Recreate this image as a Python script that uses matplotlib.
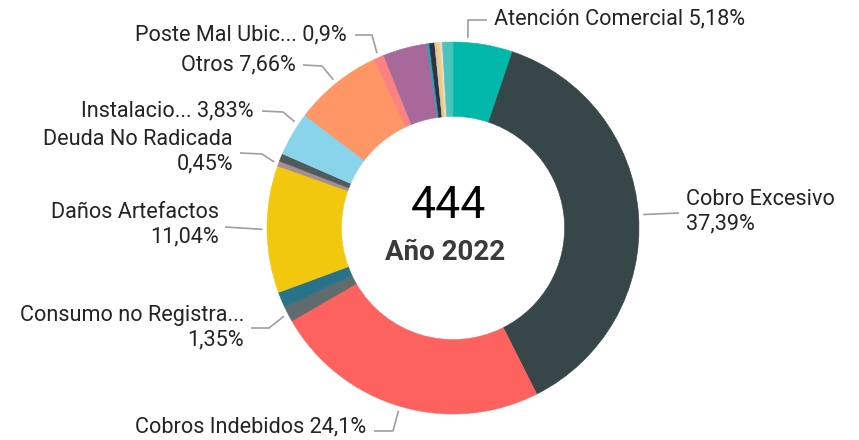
import numpy as np
import matplotlib.pyplot as plt

plt.rcParams['font.family'] = ['Roboto', 'DejaVu Sans']

# slices, clockwise from 12 o'clock (counts out of 444)
categories = ["Atención Comercial", "Cobro Excesivo", "Cobros Indebidos",
              "Consumo no Registrado", "Otra 1", "Daños Artefactos",
              "Deuda No Radicada", "Otra 2", "Instalaciones", "Otros",
              "Poste Mal Ubicado", "Otra 3", "Otra 4", "Otra 5", "Otra 6",
              "Otra 7", "Otra 8", "Otra 9"]
counts = [23, 166, 107, 6, 6, 49, 2, 3, 17, 34, 4, 17, 1, 2, 1, 1, 1, 4]
colors = ["#01B8AA", "#374649", "#FD625E", "#5F6B6D", "#28738A", "#F2C80F",
          "#A78F8F", "#4F5A5C", "#8AD4EB", "#FE9666", "#FB8281", "#A66999",
          "#3599B8", "#293537", "#DFBFBF", "#F4D25A", "#E8D8D8", "#4AC5BB"]

total_text = "444"
subtitle = "Año 2022"

# which slices get a label, and the text shown (Power BI truncates long names)
label_idx = [0, 1, 2, 3, 5, 6, 8, 9, 10]
label_names = ["Atención Comercial", "Cobro Excesivo", "Cobros Indebidos",
               "Consumo no Registra...", "Daños Artefactos", "Deuda No Radicada",
               "Instalacio...", "Otros", "Poste Mal Ubic..."]
label_two_line = [False, True, False, True, True, True, False, False, False]

# layout in pixels of the 859x440 canvas
W, H = 859, 440
CX, CY, R = 453, 228, 186
text_xy = [(494, 19), (686, 212), (366, 427), (244, 328), (219, 225),
           (233, 152), (254, 111), (296, 65), (347, 35)]
text_ha = ['left', 'left', 'right', 'right', 'right', 'right', 'right', 'right', 'right']
elbow_xy = [(468, 20), None, (393, 431), (269, 328), None, (262, 154),
            (283, 112), (322, 66), (372, 35)]
end_xy = [(487, 20), (679, 213), (374, 431), (251, 328), (225, 227),
          (240, 153), (262, 111), (303, 65), (355, 35)]
leader_frac = [0.24, 0.5, 0.5, 0.5, 0.5, 0.5, 0.75, 0.5, 0.5]


def px(x, y):
    return (x - CX) / R, (CY - y) / R


def pct_str(v):
    s = f"{v:.2f}".rstrip('0').rstrip('.')
    return s.replace('.', ',') + '%'


fig = plt.figure(figsize=(W / 100, H / 100), dpi=100)
ax = fig.add_axes([0, 0, 1, 1])

wedges, _ = ax.pie(counts, colors=colors, startangle=90, counterclock=False,
                   radius=1.0, wedgeprops=dict(width=0.4, linewidth=0.4))
for w in wedges:
    w.set_edgecolor(w.get_facecolor())

ax.set_xlim(-CX / R, (W - CX) / R)
ax.set_ylim((CY - H) / R, CY / R)
ax.set_aspect('equal')
ax.axis('off')

counts_arr = np.array(counts, dtype=float)
pcts = counts_arr / counts_arr.sum() * 100
cum = np.concatenate([[0], np.cumsum(counts_arr)]) / counts_arr.sum() * 360

text_color = "#252423"
line_color = "#9E9E9E"

for k, i in enumerate(label_idx):
    ang = np.radians(cum[i] + leader_frac[k] * (cum[i + 1] - cum[i]))
    x0, y0 = 1.025 * np.sin(ang), 1.025 * np.cos(ang)
    xs, ys = [x0], [y0]
    if elbow_xy[k] is not None:
        ex, ey = px(*elbow_xy[k])
        xs.append(ex)
        ys.append(ey)
    fx, fy = px(*end_xy[k])
    xs.append(fx)
    ys.append(fy)
    ax.plot(xs, ys, color=line_color, lw=1.2, solid_capstyle='butt')

    sep = "\n" if label_two_line[k] else " "
    txt = label_names[k] + sep + pct_str(pcts[i])
    tx, ty = px(*text_xy[k])
    ax.text(tx, ty, txt, ha=text_ha[k], va='center', fontsize=15.6,
            color=text_color, multialignment=text_ha[k], linespacing=1.22)

ax.text(*px(448, 206), total_text, ha='center', va='center', fontsize=32,
        color='black')
ax.text(*px(445, 252), subtitle, ha='center', va='center', fontsize=20,
        fontweight='bold', color='#3A3A3A')

fig.savefig("out.png", dpi=100)
